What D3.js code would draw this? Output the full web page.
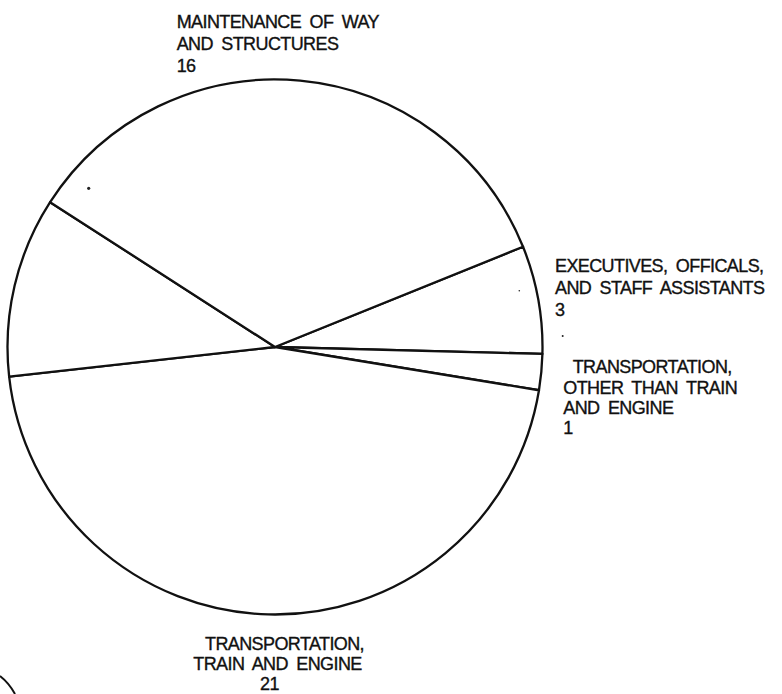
<!DOCTYPE html>
<html>
<head>
<meta charset="utf-8">
<script src="https://cdn.jsdelivr.net/npm/d3@7"></script>
<style>
	html, body { margin: 0; padding: 0; background: #fff; }
	svg { display: block; }
	.label {
		font-family: "Liberation Sans", Arial, sans-serif;
		font-size: 18px;
		letter-spacing: -0.6px;
		word-spacing: 4px;
		fill: #111;
		stroke: #111;
		stroke-width: 0.35px;
	}
</style>
</head>
<body>
<div id="chart"></div>
<script>
// slices, clockwise from the upper-right boundary
const sliceNames = [
	["EXECUTIVES, OFFICALS,", "AND STAFF ASSISTANTS"],
	["TRANSPORTATION,", "OTHER THAN TRAIN", "AND ENGINE"],
	["TRANSPORTATION,", "TRAIN AND ENGINE"],
	[],
	["MAINTENANCE OF WAY", "AND STRUCTURES"]
];
const sliceValues = [3, 1, 21, 5, 16];

// where each label block sits (null = no label in the original)
const labelLayout = [
	{ x: 555, y: 271.7, lh: 22, dx: [0, 0, 0] },
	{ x: 563.3, y: 373.3, lh: 20.2, dx: [9.4, 0, 0, 0] },
	{ x: 193.3, y: 650, lh: 20, dx: [11.7, 0, 66.7] },
	null,
	{ x: 176.7, y: 28.3, lh: 21.7, dx: [0, 0, 0] }
];

const width = 782,
	height = 694;
const cx = 275,
	cy = 347,
	radius = 267.5;
const startDeg = 68;

const svg = d3
	.select("#chart")
	.append("svg")
	.attr("width", width)
	.attr("height", height);

const pie = d3
	.pie()
	.sort(null)
	.value((d) => d)
	.startAngle((startDeg * Math.PI) / 180)
	.endAngle((startDeg * Math.PI) / 180 + 2 * Math.PI);

const arc = d3.arc().innerRadius(0).outerRadius(radius);

const g = svg.append("g").attr("transform", `translate(${cx},${cy})`);

g.selectAll("path")
	.data(pie(sliceValues))
	.enter()
	.append("path")
	.attr("d", arc)
	.attr("fill", "#fff")
	.attr("stroke", "#111")
	.attr("stroke-width", 2.3)
	.attr("stroke-linejoin", "round");

// labels: name lines then the count
const labels = svg.append("g");
sliceNames.forEach((name, i) => {
	const pos = labelLayout[i];
	if (!pos || name.length === 0) return;
	const lines = name.concat([String(sliceValues[i])]);
	const t = labels.append("text").attr("class", "label");
	lines.forEach((line, j) => {
		t.append("tspan")
			.attr("x", pos.x + (pos.dx[j] || 0))
			.attr("y", pos.y + j * pos.lh)
			.text(line);
	});
});

// scan marks left on the page
const specks = [
	[88.7, 188.3, 1.6],
	[562.7, 336, 1],
	[519.3, 290.7, 0.8]
];
svg.append("g")
	.selectAll("circle")
	.data(specks)
	.enter()
	.append("circle")
	.attr("cx", (d) => d[0])
	.attr("cy", (d) => d[1])
	.attr("r", (d) => d[2])
	.attr("fill", "#222");

svg.append("path")
	.attr("d", "M0,676 Q9,683 15,694")
	.attr("fill", "none")
	.attr("stroke", "#111")
	.attr("stroke-width", 2);
</script>
</body>
</html>
